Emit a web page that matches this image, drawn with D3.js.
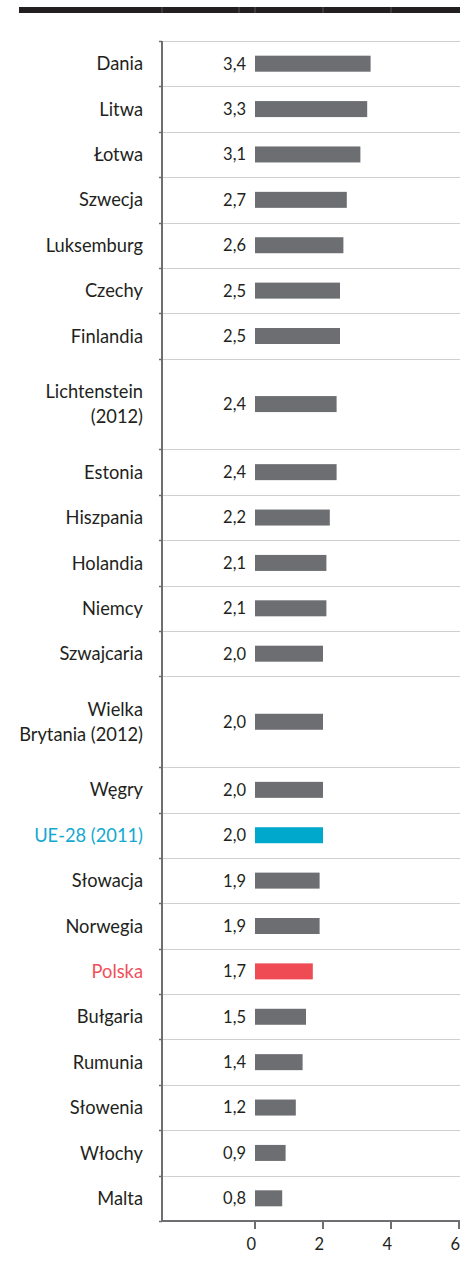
<!DOCTYPE html>
<html><head><meta charset="utf-8">
<script src="https://cdn.jsdelivr.net/npm/d3@7"></script>
<style>body{margin:0;background:#fff}svg{display:block;font-family:Lato,"Open Sans",sans-serif}</style>
</head><body>
<script>
const categories = ["Dania","Litwa","Łotwa","Szwecja","Luksemburg","Czechy","Finlandia","Lichtenstein\n(2012)","Estonia","Hiszpania","Holandia","Niemcy","Szwajcaria","Wielka\nBrytania (2012)","Węgry","UE-28 (2011)","Słowacja","Norwegia","Polska","Bułgaria","Rumunia","Słowenia","Włochy","Malta"];
const values = [3.4,3.3,3.1,2.7,2.6,2.5,2.5,2.4,2.4,2.2,2.1,2.1,2.0,2.0,2.0,2.0,1.9,1.9,1.7,1.5,1.4,1.2,0.9,0.8];
const highlight = {"UE-28 (2011)":"eu","Polska":"pl"};
const xTicks = [0,2,4,6];

const W=472,H=1270;
const svg=d3.select("body").append("svg").attr("width",W).attr("height",H);
const colors={base:"#6d6e71",eu:"#00a9cc",pl:"#ef4b55"};
const labelColors={base:"#231f20",eu:"#14a9cf",pl:"#f0505a"};

const rows=[];let acc=0;
categories.forEach((c,i)=>{const lines=c.split("\n");const u=lines.length;rows.push({c,lines,v:values[i],start:acc,units:u,kind:highlight[c]||"base"});acc+=u;});
const y=d3.scaleLinear().domain([0,acc]).range([41,1221]);
const x=d3.scaleLinear().domain([0,6]).range([255,459]);
const axisLeftX=162;

// top black bar
svg.append("rect").attr("x",19).attr("y",7).attr("width",441).attr("height",6).attr("fill","#231f20");
svg.selectAll(".div").data([axisLeftX,239].concat(xTicks.slice(0,3).map(x))).join("line")
  .attr("x1",d=>d).attr("x2",d=>d).attr("y1",7).attr("y2",13).attr("stroke","#555").attr("stroke-width",1);

// row separators
const bounds=rows.map(r=>r.start).concat([acc]);
svg.selectAll(".sep").data(bounds.slice(0,-1)).join("line")
  .attr("x1",axisLeftX).attr("x2",460).attr("y1",d=>Math.round(y(d))+0.5).attr("y2",d=>Math.round(y(d))+0.5)
  .attr("stroke","#cfcfcf").attr("stroke-width",1);
svg.selectAll(".ltick").data(bounds).join("line")
  .attr("x1",axisLeftX-3).attr("x2",axisLeftX).attr("y1",d=>Math.round(y(d))+0.5).attr("y2",d=>Math.round(y(d))+0.5)
  .attr("stroke","#6d6e71").attr("stroke-width",1.5);

// bars
const g=svg.append("g");
rows.forEach(r=>{
  const cy=y(r.start+r.units/2);
  g.append("rect").attr("x",x(0)).attr("y",cy-8).attr("width",x(r.v)-x(0)).attr("height",16).attr("fill",colors[r.kind]);
  g.append("text").attr("x",246).attr("y",cy).attr("dy","0.36em").attr("text-anchor","end")
    .attr("font-size",16.5).attr("fill","#231f20").text(d3.format(".1f")(r.v).replace(".",","));
  const t=g.append("text").attr("text-anchor","end").attr("font-size",18.3).attr("fill",labelColors[r.kind]);
  const lh=25, n=r.lines.length;
  r.lines.forEach((l,i)=>{t.append("tspan").attr("x",143).attr("y",cy+(i-(n-1)/2)*lh).attr("dy","0.36em").text(l);});
});

// left axis
svg.append("line").attr("x1",axisLeftX).attr("x2",axisLeftX).attr("y1",y(0)).attr("y2",y(acc)+1)
  .attr("stroke","#6d6e71").attr("stroke-width",2);
// x axis
const xa=svg.append("g").attr("transform",`translate(0,${y(acc)})`);
xa.append("line").attr("x1",axisLeftX-1).attr("x2",460).attr("y1",0).attr("y2",0).attr("stroke","#6d6e71").attr("stroke-width",2);
xa.selectAll(".xt").data(xTicks).join("line").attr("x1",d=>x(d)).attr("x2",d=>x(d)).attr("y1",0).attr("y2",8)
  .attr("stroke","#6d6e71").attr("stroke-width",2);
xa.selectAll(".xl").data(xTicks).join("text").attr("x",d=>x(d)+1).attr("y",23).attr("dy","0.36em")
  .attr("text-anchor","end").attr("font-size",16.5).attr("fill","#231f20").text(d=>d);
</script>
</body></html>
